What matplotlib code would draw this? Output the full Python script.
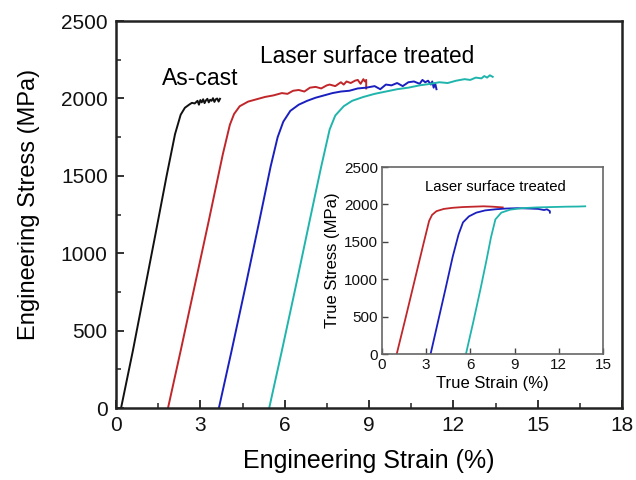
import matplotlib
matplotlib.use("Agg")
import matplotlib.pyplot as plt
from matplotlib.ticker import MultipleLocator

plt.rcParams['font.family'] = ['Liberation Sans', 'DejaVu Sans']

# ---- Engineering stress-strain curves ----
cast_strain = [0.18, 0.6, 1.0, 1.4, 1.8, 2.1, 2.3, 2.45, 2.6, 2.7, 2.8, 2.9, 2.95, 3.0, 3.05, 3.1,
               3.15, 3.2, 3.25, 3.3, 3.35, 3.4, 3.45, 3.5, 3.55, 3.6, 3.65, 3.7]
cast_stress = [0, 370, 745, 1120, 1500, 1770, 1895, 1940, 1960, 1972, 1968, 1985, 1960, 1990, 1975,
               1995, 1970, 1988, 1998, 1975, 1992, 1985, 2002, 1978, 1995, 2000, 1980, 1998]

red_strain = [1.85, 2.3, 2.8, 3.3, 3.8, 4.05, 4.2, 4.4, 4.7, 5.0, 5.3, 5.6, 5.9, 6.1, 6.3, 6.5, 6.7,
              6.9, 7.1, 7.3, 7.5, 7.6, 7.8, 8.0, 8.1, 8.2, 8.35, 8.5, 8.6, 8.7, 8.8, 8.85, 8.9, 8.9]
red_stress = [0, 370, 790, 1210, 1640, 1830, 1900, 1950, 1980, 1995, 2010, 2020, 2035, 2030, 2050,
              2055, 2045, 2070, 2075, 2065, 2085, 2090, 2080, 2105, 2090, 2110, 2100, 2115, 2120,
              2095, 2125, 2110, 2120, 2065]

blue_strain = [3.66, 4.1, 4.6, 5.1, 5.5, 5.75, 5.95, 6.2, 6.5, 6.8, 7.1, 7.4, 7.7, 8.0, 8.3, 8.6,
               8.9, 9.2, 9.4, 9.6, 9.8, 10.0, 10.2, 10.4, 10.6, 10.8, 10.9, 11.0, 11.1, 11.2, 11.25,
               11.3, 11.35, 11.4]
blue_stress = [0, 360, 780, 1210, 1560, 1750, 1850, 1920, 1960, 1985, 2005, 2020, 2035, 2045, 2050,
               2065, 2070, 2080, 2060, 2090, 2085, 2100, 2080, 2105, 2110, 2095, 2120, 2105, 2115,
               2090, 2110, 2070, 2100, 2060]

cyan_strain = [5.45, 5.9, 6.4, 6.9, 7.3, 7.6, 7.8, 8.1, 8.4, 8.8, 9.2, 9.6, 10.0, 10.4, 10.8, 11.2,
               11.5, 11.8, 12.1, 12.4, 12.6, 12.8, 13.0, 13.1, 13.2, 13.3, 13.4]
cyan_stress = [0, 370, 790, 1220, 1560, 1800, 1890, 1950, 1985, 2010, 2030, 2045, 2060, 2070, 2085,
               2095, 2105, 2100, 2115, 2125, 2120, 2135, 2130, 2145, 2135, 2150, 2140]

# ---- True stress-strain curves (inset) ----
t_red_strain = [1.0, 1.6, 2.2, 2.8, 3.2, 3.4, 3.7, 4.2, 4.8, 5.5, 6.2, 6.9, 7.5, 8.2]
t_red_stress = [0, 480, 970, 1460, 1780, 1860, 1910, 1940, 1955, 1965, 1970, 1975, 1970, 1960]

t_blue_strain = [3.3, 3.8, 4.3, 4.8, 5.2, 5.5, 5.9, 6.4, 7.0, 7.7, 8.4, 9.2, 10.0, 10.6, 11.0,
                 11.2, 11.4, 11.4]
t_blue_stress = [0, 430, 860, 1300, 1600, 1760, 1840, 1890, 1920, 1935, 1945, 1950, 1945, 1940,
                 1925, 1935, 1910, 1890]

t_cyan_strain = [5.7, 6.2, 6.7, 7.1, 7.4, 7.7, 8.1, 8.7, 9.5, 10.5, 11.5, 12.5, 13.3, 13.8]
t_cyan_stress = [0, 430, 880, 1260, 1560, 1800, 1890, 1930, 1950, 1960, 1965, 1970, 1972, 1975]

main_xticks = [0, 3, 6, 9, 12, 15, 18]
main_yticks = [0, 500, 1000, 1500, 2000, 2500]
inset_xticks = [0, 3, 6, 9, 12, 15]
inset_yticks = [0, 500, 1000, 1500, 2000, 2500]

BLACK = '#111111'
RED = '#c0262a'
BLUE = '#1a1fbf'
CYAN = '#1fb5ac'
SPINE = '#222222'

fig = plt.figure(figsize=(6.36, 4.8), dpi=100)
ax = fig.add_axes([0.1824, 0.15, 0.7956, 0.806])

ax.plot(cast_strain, cast_stress, color=BLACK, lw=1.4)
ax.plot(red_strain, red_stress, color=RED, lw=1.4)
ax.plot(blue_strain, blue_stress, color=BLUE, lw=1.4)
ax.plot(cyan_strain, cyan_stress, color=CYAN, lw=1.4)

ax.set_xlim(0, 18)
ax.set_ylim(0, 2500)
ax.set_xticks(main_xticks)
ax.set_yticks(main_yticks)
ax.xaxis.set_minor_locator(MultipleLocator(1.5))
ax.yaxis.set_minor_locator(MultipleLocator(250))
ax.tick_params(which='both', direction='in', top=False, right=False, colors=SPINE,
               labelcolor='#111111')
ax.tick_params(which='major', length=6, width=1.3, labelsize=15, pad=6)
ax.tick_params(which='minor', length=3.5, width=1.1)
for s in ax.spines.values():
    s.set_linewidth(1.8)
    s.set_color(SPINE)

ax.set_xlabel('Engineering Strain (%)', fontsize=18, labelpad=10)
ax.set_ylabel('Engineering Stress (MPa)', fontsize=17)
ax.yaxis.set_label_coords(-0.15, 0.527)

ax.text(3.0, 2130, 'As-cast', fontsize=16.5, ha='center', va='center')
ax.text(8.95, 2270, 'Laser surface treated', fontsize=16.3, ha='center', va='center')

# ---- Inset ----
ins = fig.add_axes([0.6006, 0.2625, 0.3474, 0.3895])
ins.plot(t_red_strain, t_red_stress, color=RED, lw=1.3)
ins.plot(t_blue_strain, t_blue_stress, color=BLUE, lw=1.3)
ins.plot(t_cyan_strain, t_cyan_stress, color=CYAN, lw=1.3)
ins.set_xlim(0, 15)
ins.set_ylim(0, 2500)
ins.set_xticks(inset_xticks)
ins.set_yticks(inset_yticks)
ins.tick_params(which='both', direction='in', top=False, right=False, colors='#444444',
                labelcolor='#111111')
ins.tick_params(which='major', length=4, width=1.0, labelsize=11, pad=3)
for s in ins.spines.values():
    s.set_linewidth(1.2)
    s.set_color('#666666')
ins.set_xlabel('True Strain (%)', fontsize=12, labelpad=3)
ins.set_ylabel('True Stress (MPa)', fontsize=12, labelpad=3)
ins.text(7.7, 2230, 'Laser surface treated', fontsize=10.7, ha='center', va='center')

fig.savefig('out.png', dpi=100)
